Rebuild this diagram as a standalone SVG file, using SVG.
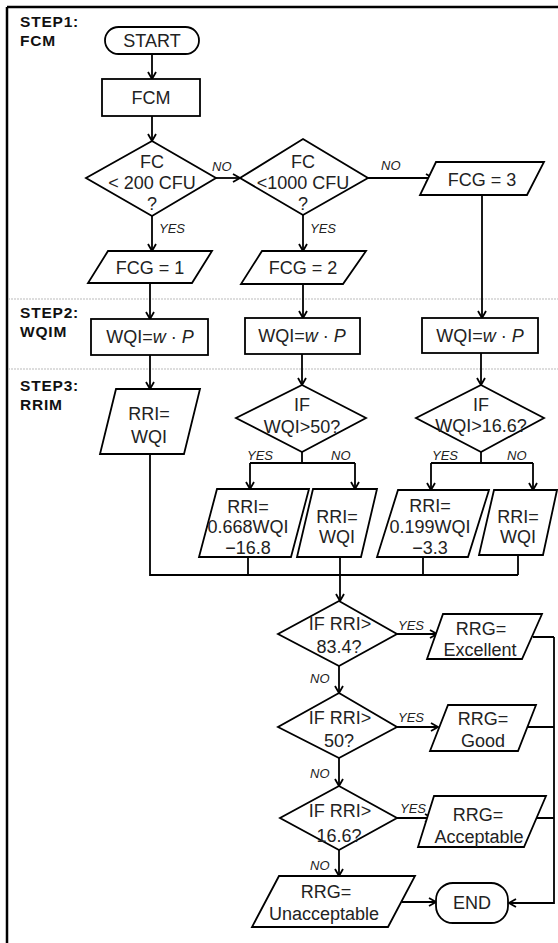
<svg xmlns="http://www.w3.org/2000/svg" width="558" height="943" viewBox="0 0 558 943">
<style>
.s{fill:#fff;stroke:#000;stroke-width:1.8;}
.c{fill:none;stroke:#000;stroke-width:1.8;}
.t{font-family:"Liberation Sans",Arial,sans-serif;font-size:18px;fill:#222;text-anchor:middle;}
.l{font-family:"Liberation Sans",Arial,sans-serif;font-size:13px;font-style:italic;fill:#222;}
.h{font-family:"Liberation Sans",Arial,sans-serif;font-size:15.5px;font-weight:bold;letter-spacing:0.8px;fill:#111;}
.i{font-style:italic;}
.sep{stroke:#bbb;stroke-width:1;stroke-dasharray:2 1;}
</style>
<defs>
<marker id="a" markerWidth="10" markerHeight="11" refX="8.5" refY="5.5" orient="auto" markerUnits="userSpaceOnUse">
<path d="M1.5,1.5 L8.5,5.5 L1.5,9.5" fill="none" stroke="#000" stroke-width="1.8"/>
</marker>
</defs>
<rect x="0" y="0" width="558" height="943" fill="#fff"/>
<g id="frame">
<line x1="7" y1="7" x2="558" y2="7" stroke="#000" stroke-width="2.5"/>
<line x1="7" y1="7" x2="7" y2="943" stroke="#000" stroke-width="2.5"/>
<line class="sep" x1="8" y1="299" x2="558" y2="299"/>
<line class="sep" x1="8" y1="369" x2="558" y2="369"/>
</g>
<g id="steps">
<text class="h" x="20" y="27">STEP1:</text>
<text class="h" x="20" y="46">FCM</text>
<text class="h" x="20" y="318">STEP2:</text>
<text class="h" x="20" y="337">WQIM</text>
<text class="h" x="20" y="391">STEP3:</text>
<text class="h" x="20" y="410">RRIM</text>
</g>
<g id="connectors">
<line class="c" x1="152" y1="54" x2="152" y2="79" marker-end="url(#a)"/>
<line class="c" x1="152" y1="116" x2="152" y2="141" marker-end="url(#a)"/>
<line class="c" x1="216" y1="178" x2="240" y2="178" marker-end="url(#a)"/>
<line class="c" x1="368" y1="178" x2="433" y2="178" marker-end="url(#a)"/>
<line class="c" x1="152" y1="216" x2="152" y2="251" marker-end="url(#a)"/>
<line class="c" x1="303" y1="215" x2="303" y2="251" marker-end="url(#a)"/>
<line class="c" x1="150" y1="283" x2="150" y2="319" marker-end="url(#a)"/>
<line class="c" x1="303" y1="284" x2="303" y2="318" marker-end="url(#a)"/>
<line class="c" x1="482" y1="195" x2="482" y2="318" marker-end="url(#a)"/>
<line class="c" x1="150" y1="355" x2="150" y2="389" marker-end="url(#a)"/>
<line class="c" x1="302" y1="354" x2="302" y2="385" marker-end="url(#a)"/>
<line class="c" x1="481" y1="353" x2="481" y2="385" marker-end="url(#a)"/>
<path class="c" d="M302,452 V463 M250,463 H355"/>
<line class="c" x1="250" y1="463" x2="250" y2="489" marker-end="url(#a)"/>
<line class="c" x1="355" y1="463" x2="355" y2="489" marker-end="url(#a)"/>
<path class="c" d="M481,452 V463 M431,463 H533"/>
<line class="c" x1="431" y1="463" x2="431" y2="490" marker-end="url(#a)"/>
<line class="c" x1="533" y1="463" x2="533" y2="490" marker-end="url(#a)"/>
<path class="c" d="M150,454 V575 H518 M248,557 V575 M423,557 V575 M518,555 V575"/>
<line class="c" x1="340" y1="557" x2="340" y2="601" marker-end="url(#a)"/>
<line class="c" x1="397" y1="634" x2="437" y2="634" marker-end="url(#a)"/>
<line class="c" x1="339" y1="666" x2="339" y2="693" marker-end="url(#a)"/>
<line class="c" x1="397" y1="727" x2="438" y2="727" marker-end="url(#a)"/>
<line class="c" x1="339" y1="758" x2="339" y2="786" marker-end="url(#a)"/>
<line class="c" x1="397" y1="818" x2="432" y2="818" marker-end="url(#a)"/>
<line class="c" x1="339" y1="850" x2="339" y2="876" marker-end="url(#a)"/>
<line class="c" x1="402" y1="902" x2="436" y2="902" marker-end="url(#a)"/>
<path class="c" d="M533,637 H554 M528,727 H554 M537,818 H554 M554,637 V903 H509" marker-end="url(#a)"/>
<text class="l" x="212" y="171">NO</text>
<text class="l" x="381" y="170">NO</text>
<text class="l" x="159" y="233">YES</text>
<text class="l" x="310" y="233">YES</text>
<text class="l" x="247" y="460">YES</text>
<text class="l" x="331" y="460">NO</text>
<text class="l" x="432" y="460">YES</text>
<text class="l" x="507" y="460">NO</text>
<text class="l" x="398" y="630">YES</text>
<text class="l" x="310" y="683">NO</text>
<text class="l" x="398" y="722">YES</text>
<text class="l" x="310" y="778">NO</text>
<text class="l" x="400" y="813">YES</text>
<text class="l" x="310" y="870">NO</text>
</g>
<g id="start">
<rect class="s" x="105" y="27" width="94" height="27" rx="13.5"/>
<text class="t" x="152" y="47">START</text>
</g>
<g id="fcm">
<rect class="s" x="102" y="79" width="98" height="37"/>
<text class="t" x="151" y="104">FCM</text>
</g>
<g id="d1">
<polygon class="s" points="152,141 216,178 152,216 86,178"/>
<text class="t" x="152" y="168">FC</text>
<text class="t" x="152" y="189">&lt; 200 CFU</text>
<text class="t" x="152" y="210">?</text>
</g>
<g id="d2">
<polygon class="s" points="303,139 368,178 303,215 240,178"/>
<text class="t" x="303" y="168">FC</text>
<text class="t" x="303" y="189">&lt;1000 CFU</text>
<text class="t" x="303" y="210">?</text>
</g>
<g id="fcg3">
<polygon class="s" points="436,162 544,162 527,195 420,195"/>
<text class="t" x="482" y="186">FCG = 3</text>
</g>
<g id="fcg1">
<polygon class="s" points="108,251 212,251 192,283 88,283"/>
<text class="t" x="150" y="274">FCG = 1</text>
</g>
<g id="fcg2">
<polygon class="s" points="262,251 366,251 343,284 241,284"/>
<text class="t" x="303" y="274">FCG = 2</text>
</g>
<g id="wqi1">
<rect class="s" x="91" y="319" width="117" height="36"/>
<text class="t" x="150" y="343">WQI=<tspan class="i">w</tspan> · <tspan class="i">P</tspan></text>
</g>
<g id="wqi2">
<rect class="s" x="245" y="318" width="115" height="36"/>
<text class="t" x="302" y="342">WQI=<tspan class="i">w</tspan> · <tspan class="i">P</tspan></text>
</g>
<g id="wqi3">
<rect class="s" x="422" y="318" width="116" height="35"/>
<text class="t" x="480" y="342">WQI=<tspan class="i">w</tspan> · <tspan class="i">P</tspan></text>
</g>
<g id="rri1">
<polygon class="s" points="116,389 200,389 184,454 100,454"/>
<text class="t" x="149" y="420">RRI=</text>
<text class="t" x="149" y="443">WQI</text>
</g>
<g id="d3">
<polygon class="s" points="302,385 366,418 302,452 236,418"/>
<text class="t" x="302" y="411">IF</text>
<text class="t" x="302" y="433">WQI&gt;50?</text>
</g>
<g id="d4">
<polygon class="s" points="481,385 544,418 481,452 416,418"/>
<text class="t" x="481" y="411">IF</text>
<text class="t" x="481" y="432">WQI&gt;16.6?</text>
</g>
<g id="rria">
<polygon class="s" points="217,489 309,489 291,557 199,557"/>
<text class="t" x="248" y="513">RRI=</text>
<text class="t" x="248" y="533">0.668WQI</text>
<text class="t" x="248" y="554">−16.8</text>
</g>
<g id="rrib">
<polygon class="s" points="313,489 377,489 361,557 297,557"/>
<text class="t" x="337" y="523">RRI=</text>
<text class="t" x="337" y="543">WQI</text>
</g>
<g id="rric">
<polygon class="s" points="398,490 489,490 468,557 377,557"/>
<text class="t" x="430" y="512">RRI=</text>
<text class="t" x="430" y="533">0.199WQI</text>
<text class="t" x="430" y="554">−3.3</text>
</g>
<g id="rrid">
<polygon class="s" points="494,490 557,490 543,555 479,555"/>
<text class="t" x="518" y="523">RRI=</text>
<text class="t" x="518" y="543">WQI</text>
</g>
<g id="d5">
<polygon class="s" points="339,601 397,634 339,666 278,634"/>
<text class="t" x="340" y="630">IF RRI&gt;</text>
<text class="t" x="339" y="653">83.4?</text>
</g>
<g id="excellent">
<polygon class="s" points="443,614 542,614 522,659 427,659"/>
<text class="t" x="481" y="635">RRG=</text>
<text class="t" x="480" y="656">Excellent</text>
</g>
<g id="d6">
<polygon class="s" points="339,693 397,727 339,758 278,727"/>
<text class="t" x="340" y="724">IF RRI&gt;</text>
<text class="t" x="339" y="747">50?</text>
</g>
<g id="good">
<polygon class="s" points="448,705 536,705 518,751 430,751"/>
<text class="t" x="483" y="725">RRG=</text>
<text class="t" x="483" y="747">Good</text>
</g>
<g id="d7">
<polygon class="s" points="339,786 397,818 339,850 280,818"/>
<text class="t" x="340" y="817">IF RRI&gt;</text>
<text class="t" x="339" y="842">16.6?</text>
</g>
<g id="acceptable">
<polygon class="s" points="434,796 546,796 524,847 418,847"/>
<text class="t" x="478" y="821">RRG=</text>
<text class="t" x="479" y="843">Acceptable</text>
</g>
<g id="unacceptable">
<polygon class="s" points="279,876 415,876 388,927 252,927"/>
<text class="t" x="326" y="898">RRG=</text>
<text class="t" x="324" y="920">Unacceptable</text>
</g>
<g id="end">
<rect class="s" x="436" y="883" width="72" height="40" rx="17"/>
<text class="t" x="472" y="909">END</text>
</g>
</svg>
